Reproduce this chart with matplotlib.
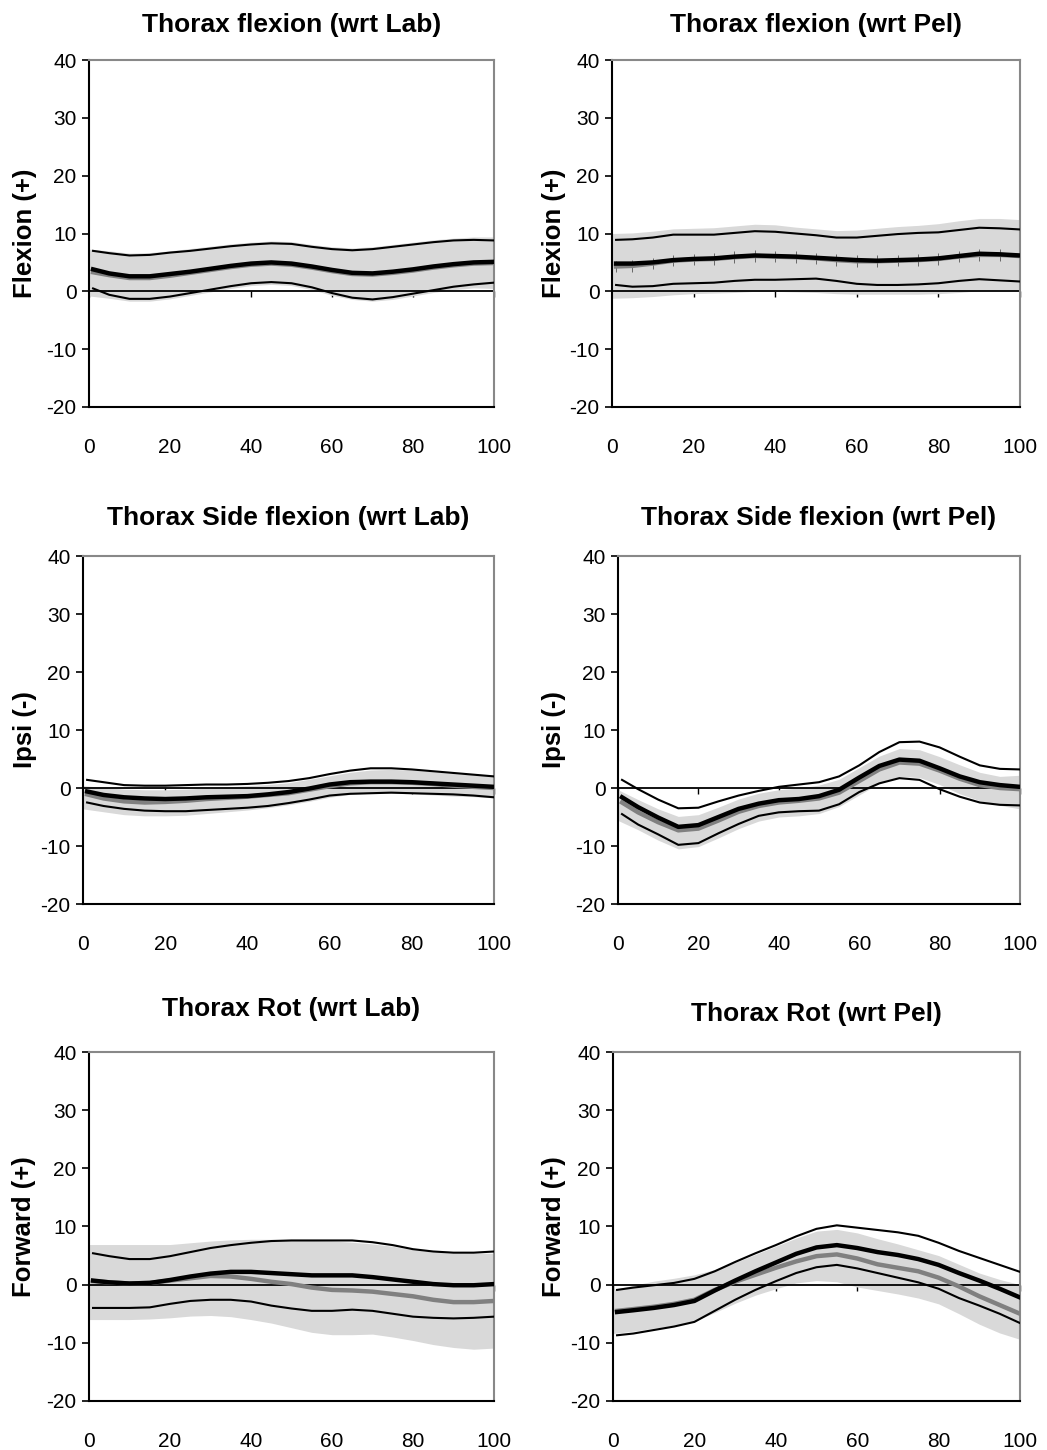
import numpy as np
import matplotlib
matplotlib.use('Agg')
import matplotlib.pyplot as plt

plt.rcParams['font.family'] = ['Liberation Sans', 'DejaVu Sans']
plt.rcParams['axes.unicode_minus'] = False

# sample positions (% cycle)
line_x = [1, 5, 10, 15, 20, 25, 30, 35, 40, 45, 50, 55, 60, 65, 70, 75, 80, 85, 90, 95, 100]
band_x = [0, 5, 10, 15, 20, 25, 30, 35, 40, 45, 50, 55, 60, 65, 70, 75, 80, 85, 90, 95, 100]

titles = ['Thorax flexion (wrt Lab)', 'Thorax flexion (wrt Pel)',
          'Thorax Side flexion (wrt Lab)', 'Thorax Side flexion (wrt Pel)',
          'Thorax Rot (wrt Lab)', 'Thorax Rot (wrt Pel)']
ylabels = ['Flexion (+)', 'Flexion (+)', 'Ipsi (-)', 'Ipsi (-)', 'Forward (+)', 'Forward (+)']
yticks = [-20, -10, 0, 10, 20, 30, 40]
xticks = [0, 20, 40, 60, 80, 100]

# Thorax flexion wrt Lab
flex_lab_upper = [7.0, 6.6, 6.2, 6.3, 6.7, 7.0, 7.4, 7.8, 8.1, 8.3, 8.2, 7.7, 7.3, 7.1, 7.3, 7.7, 8.1, 8.5, 8.8, 8.9, 8.8]
flex_lab_mean = [3.8, 3.1, 2.6, 2.6, 3.0, 3.4, 3.9, 4.4, 4.8, 5.0, 4.8, 4.3, 3.7, 3.2, 3.1, 3.4, 3.8, 4.3, 4.7, 5.0, 5.1]
flex_lab_ref = [3.3, 2.8, 2.3, 2.3, 2.7, 3.2, 3.7, 4.2, 4.6, 4.8, 4.6, 4.1, 3.5, 3.0, 2.9, 3.2, 3.6, 4.1, 4.5, 4.8, 4.9]
flex_lab_lower = [0.5, -0.6, -1.3, -1.3, -0.9, -0.3, 0.3, 0.9, 1.4, 1.6, 1.4, 0.7, -0.3, -1.1, -1.4, -1.0, -0.4, 0.2, 0.8, 1.2, 1.5]
flex_lab_band_hi = [7.3, 7.0, 6.6, 6.7, 7.0, 7.4, 7.8, 8.2, 8.5, 8.7, 8.6, 8.1, 7.7, 7.5, 7.7, 8.1, 8.5, 8.9, 9.2, 9.4, 9.4]
flex_lab_band_lo = [-0.8, -1.2, -1.7, -1.7, -1.3, -0.7, -0.1, 0.5, 1.0, 1.2, 1.0, 0.3, -0.7, -1.4, -1.7, -1.4, -0.8, -0.2, 0.3, 0.6, 0.5]

# Thorax flexion wrt Pel
flex_pel_upper = [8.9, 9.0, 9.3, 9.8, 9.8, 9.8, 10.1, 10.4, 10.3, 10.0, 9.7, 9.3, 9.3, 9.6, 9.9, 10.1, 10.2, 10.6, 11.0, 10.9, 10.7]
flex_pel_mean = [4.8, 4.8, 5.0, 5.4, 5.6, 5.7, 6.0, 6.2, 6.1, 6.0, 5.8, 5.6, 5.4, 5.3, 5.4, 5.5, 5.7, 6.1, 6.5, 6.4, 6.2]
flex_pel_ref = [4.3, 4.4, 4.8, 5.3, 5.5, 5.6, 5.9, 6.1, 6.0, 5.9, 5.7, 5.4, 5.2, 5.2, 5.3, 5.4, 5.6, 6.0, 6.3, 6.3, 6.1]
flex_pel_lower = [1.1, 0.8, 0.9, 1.3, 1.4, 1.5, 1.8, 2.0, 2.0, 2.1, 2.2, 1.8, 1.3, 1.1, 1.1, 1.2, 1.4, 1.8, 2.1, 1.9, 1.7]
flex_pel_band_hi = [10.0, 10.1, 10.4, 10.8, 10.9, 11.0, 11.3, 11.6, 11.5, 11.1, 10.8, 10.5, 10.6, 10.9, 11.2, 11.4, 11.7, 12.2, 12.6, 12.6, 12.4]
flex_pel_band_lo = [-1.2, -1.1, -0.9, -0.6, -0.4, -0.3, -0.2, 0.0, 0.0, -0.1, -0.2, -0.4, -0.5, -0.5, -0.5, -0.5, -0.4, -0.2, 0.1, 0.2, 0.2]
flex_pel_ref_err = 1.0

# Thorax side flexion wrt Lab
side_lab_upper = [1.4, 1.0, 0.5, 0.4, 0.4, 0.5, 0.6, 0.6, 0.7, 0.9, 1.2, 1.7, 2.4, 3.0, 3.4, 3.4, 3.2, 2.9, 2.6, 2.3, 2.0]
side_lab_mean = [-0.6, -1.2, -1.6, -1.8, -1.9, -1.8, -1.6, -1.5, -1.4, -1.1, -0.7, -0.1, 0.6, 1.0, 1.1, 1.1, 1.0, 0.8, 0.6, 0.4, 0.2]
side_lab_ref = [-1.1, -1.8, -2.3, -2.5, -2.4, -2.2, -1.9, -1.7, -1.5, -1.2, -0.9, -0.3, 0.3, 0.8, 1.0, 1.0, 0.9, 0.7, 0.4, 0.2, 0.0]
side_lab_lower = [-2.5, -3.1, -3.6, -3.9, -4.0, -4.0, -3.8, -3.6, -3.4, -3.1, -2.6, -2.0, -1.3, -1.0, -0.9, -0.8, -0.9, -1.0, -1.1, -1.3, -1.6]
side_lab_band_hi = [0.4, 0.1, -0.2, -0.3, -0.3, -0.2, 0.0, 0.2, 0.4, 0.6, 0.9, 1.5, 2.1, 2.7, 3.1, 3.2, 3.1, 2.8, 2.5, 2.3, 2.2]
side_lab_band_lo = [-3.6, -4.1, -4.6, -4.8, -4.8, -4.7, -4.4, -4.1, -3.8, -3.4, -2.9, -2.3, -1.6, -1.1, -0.9, -0.9, -1.0, -1.2, -1.4, -1.5, -1.7]

# Thorax side flexion wrt Pel
side_pel_upper = [1.4, -0.2, -2.0, -3.5, -3.4, -2.3, -1.3, -0.5, 0.2, 0.6, 1.0, 2.0, 3.9, 6.2, 7.9, 8.0, 7.0, 5.4, 3.9, 3.3, 3.2]
side_pel_mean = [-1.6, -3.3, -5.1, -6.7, -6.4, -5.0, -3.6, -2.7, -2.1, -1.9, -1.4, -0.3, 1.8, 3.8, 4.9, 4.7, 3.4, 2.0, 1.0, 0.5, 0.2]
side_pel_ref = [-2.5, -4.2, -5.9, -7.3, -7.0, -5.6, -4.1, -3.1, -2.5, -2.2, -1.8, -0.8, 1.2, 3.2, 4.4, 4.2, 3.0, 1.6, 0.5, 0.0, -0.2]
side_pel_lower = [-4.5, -6.3, -8.0, -9.8, -9.5, -7.8, -6.2, -4.8, -4.2, -4.0, -3.9, -2.8, -0.7, 0.8, 1.7, 1.4, -0.2, -1.5, -2.5, -2.9, -3.0]
side_pel_band_hi = [-0.3, -2.0, -3.6, -4.9, -4.6, -3.3, -1.9, -0.9, -0.3, 0.0, 0.5, 1.5, 3.5, 5.5, 6.8, 6.6, 5.4, 4.0, 2.7, 2.0, 2.2]
side_pel_band_lo = [-5.6, -7.2, -9.0, -10.5, -10.1, -8.6, -7.0, -5.7, -5.0, -4.8, -4.4, -3.2, -1.2, 0.8, 2.0, 1.8, 0.6, -1.0, -2.2, -3.0, -3.6]

# Thorax rotation wrt Lab
rot_lab_upper = [5.4, 4.9, 4.4, 4.4, 4.9, 5.6, 6.3, 6.8, 7.2, 7.5, 7.6, 7.6, 7.6, 7.6, 7.3, 6.8, 6.1, 5.7, 5.5, 5.5, 5.7]
rot_lab_mean = [0.7, 0.4, 0.2, 0.3, 0.8, 1.4, 1.9, 2.2, 2.2, 2.0, 1.8, 1.6, 1.6, 1.6, 1.3, 0.9, 0.5, 0.1, -0.1, -0.1, 0.1]
rot_lab_ref = [0.6, 0.4, 0.2, 0.3, 0.7, 1.1, 1.5, 1.4, 1.0, 0.5, 0.1, -0.5, -0.9, -1.0, -1.2, -1.6, -2.0, -2.6, -3.0, -3.0, -2.8]
rot_lab_lower = [-4.0, -4.0, -4.0, -3.9, -3.3, -2.8, -2.6, -2.6, -2.9, -3.6, -4.1, -4.5, -4.5, -4.3, -4.5, -5.0, -5.5, -5.7, -5.8, -5.7, -5.5]
rot_lab_band_hi = [6.9, 6.9, 6.9, 6.9, 6.9, 7.2, 7.5, 7.7, 7.8, 7.8, 7.7, 7.6, 7.5, 7.3, 7.0, 6.6, 6.0, 5.6, 5.4, 5.4, 5.4]
rot_lab_band_lo = [-6.0, -6.0, -6.0, -5.9, -5.7, -5.4, -5.3, -5.5, -6.0, -6.6, -7.4, -8.2, -8.6, -8.6, -8.5, -9.0, -9.6, -10.3, -10.8, -11.1, -10.9]

# Thorax rotation wrt Pel
rot_pel_upper = [-0.9, -0.5, -0.1, 0.3, 1.0, 2.3, 3.9, 5.4, 6.8, 8.3, 9.6, 10.2, 9.8, 9.4, 9.0, 8.4, 7.2, 5.8, 4.6, 3.4, 2.2]
rot_pel_mean = [-4.7, -4.4, -4.0, -3.5, -2.8, -1.0, 0.7, 2.3, 3.8, 5.3, 6.4, 6.8, 6.3, 5.6, 5.1, 4.4, 3.4, 2.0, 0.7, -0.7, -2.2]
rot_pel_ref = [-4.5, -4.2, -3.8, -3.3, -2.6, -0.9, 0.5, 1.7, 2.9, 4.0, 4.9, 5.2, 4.5, 3.5, 2.9, 2.3, 1.2, -0.3, -2.0, -3.5, -5.0]
rot_pel_lower = [-8.7, -8.4, -7.8, -7.2, -6.4, -4.5, -2.6, -0.9, 0.6, 2.0, 3.0, 3.4, 2.8, 2.0, 1.2, 0.4, -0.7, -2.3, -3.6, -5.0, -6.6]
rot_pel_band_hi = [-0.9, -0.1, 0.6, 1.1, 1.7, 2.6, 3.8, 5.2, 6.6, 8.0, 9.2, 9.5, 8.9, 7.9, 7.0, 6.0, 5.0, 3.5, 2.0, 0.9, 0.0]
rot_pel_band_lo = [-8.4, -8.0, -7.5, -7.0, -6.3, -4.8, -3.2, -1.8, -0.7, 0.3, 0.7, 0.5, -0.4, -1.0, -1.6, -2.3, -3.3, -5.0, -6.8, -8.3, -9.4]

panels = [
    (flex_lab_upper, flex_lab_mean, flex_lab_ref, flex_lab_lower, flex_lab_band_hi, flex_lab_band_lo),
    (flex_pel_upper, flex_pel_mean, flex_pel_ref, flex_pel_lower, flex_pel_band_hi, flex_pel_band_lo),
    (side_lab_upper, side_lab_mean, side_lab_ref, side_lab_lower, side_lab_band_hi, side_lab_band_lo),
    (side_pel_upper, side_pel_mean, side_pel_ref, side_pel_lower, side_pel_band_hi, side_pel_band_lo),
    (rot_lab_upper, rot_lab_mean, rot_lab_ref, rot_lab_lower, rot_lab_band_hi, rot_lab_band_lo),
    (rot_pel_upper, rot_pel_mean, rot_pel_ref, rot_pel_lower, rot_pel_band_hi, rot_pel_band_lo),
]

W, H = 1047, 1450
# axes boxes in pixels: left, right, top, bottom
boxes = [(89, 494, 60, 407), (612, 1020, 60, 407),
         (83, 494, 556, 904), (618, 1020, 556, 904),
         (89, 494, 1052, 1401), (613, 1020, 1052, 1401)]
title_pads = [20, 20, 22, 22, 26, 22]
# label centre offset (pixels left of the axes) -> right edge of rotated label
label_px = [64, 58, 58, 64, 65, 59]

fig = plt.figure(figsize=(W / 100, H / 100), dpi=100)

for i, (up, mean, ref, lo, bhi, blo) in enumerate(panels):
    l, r, t, b = boxes[i]
    ax = fig.add_axes([l / W, 1 - b / H, (r - l) / W, (b - t) / H])

    ax.fill_between(band_x, blo, bhi, color='#d9d9d9', lw=0, zorder=1)
    ax.axhline(0, color='black', lw=1.3, zorder=2)
    if i == 1:
        ax.errorbar(line_x, ref, yerr=flex_pel_ref_err, color='#808080', lw=3.2,
                    ecolor='#555555', elinewidth=0.6, capsize=0, zorder=3)
    else:
        ax.plot(line_x, ref, color='#808080', lw=3.2, zorder=3)
    ax.plot(line_x, mean, color='black', lw=3.2, zorder=4)
    ax.plot(line_x, up, color='black', lw=1.5, zorder=5)
    ax.plot(line_x, lo, color='black', lw=1.5, zorder=5)

    ax.set_xlim(0, 100)
    ax.set_ylim(-20, 40)
    ax.set_yticks(yticks)
    ax.set_xticks(xticks)
    ax.tick_params(axis='y', direction='out', length=5, width=1.2, pad=4, labelsize=15)
    ax.tick_params(axis='x', length=0, pad=22, labelsize=15)

    for s in ['left', 'bottom']:
        ax.spines[s].set_color('black')
        ax.spines[s].set_linewidth(1.5)
    for s in ['top', 'right']:
        ax.spines[s].set_color('#888888')
        ax.spines[s].set_linewidth(1.5)

    # small tick marks on the zero line
    sec = ax.secondary_xaxis(1 / 3)
    sec.set_xticks(xticks)
    sec.xaxis.set_ticks_position('bottom')
    sec.tick_params(axis='x', direction='out', length=4, width=1.0,
                    labelbottom=False, labeltop=False)
    for s in sec.spines.values():
        s.set_visible(False)

    ax.set_title(titles[i], fontsize=19, fontweight='bold', pad=title_pads[i])
    ax.set_ylabel(ylabels[i], fontsize=18.5, fontweight='bold')
    ax.yaxis.set_label_coords(-(label_px[i] - 12) / (r - l), 0.5)

fig.savefig('out.png', dpi=100)
